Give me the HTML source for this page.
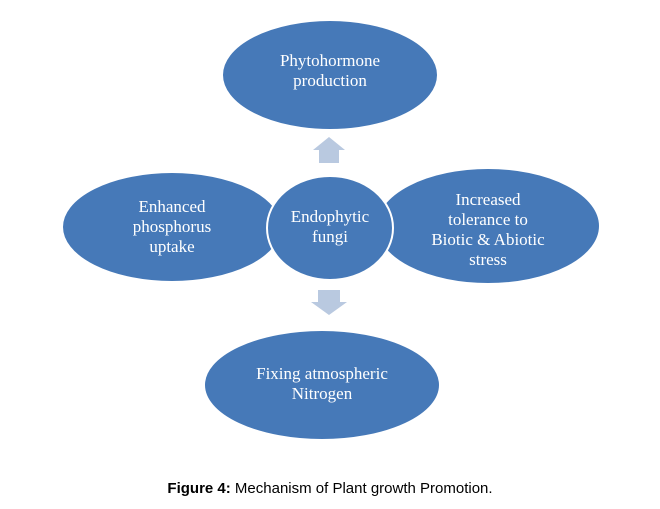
<!DOCTYPE html>
<html><head><style>
body{margin:0;background:#fff;width:660px;height:509px;overflow:hidden}
svg text{font-family:"Liberation Serif",serif;fill:#fff;font-size:17px;text-anchor:middle}
.cap{position:absolute;top:480px;left:0;width:660px;text-align:center;font-family:"Liberation Sans",sans-serif;font-size:15px;color:#000}
</style></head><body>
<svg width="660" height="509" style="position:absolute;left:0;top:0">
<g fill="#4679b8" stroke="#fff" stroke-width="2">
<ellipse cx="330" cy="75" rx="108" ry="55"/>
<ellipse cx="172" cy="227" rx="110" ry="55"/>
<ellipse cx="488" cy="226" rx="112" ry="58"/>
<ellipse cx="330" cy="228" rx="63" ry="52"/>
<ellipse cx="322" cy="385" rx="118" ry="55"/>
</g>
<polygon points="329,137 345,150 339,150 339,163 319,163 319,150 313,150" fill="#b9c9e0"/>
<polygon points="329,315 347,302 340,302 340,290 318,290 318,302 311,302" fill="#b9c9e0"/>
<text x="330" y="66">Phytohormone</text>
<text x="330" y="86">production</text>
<text x="172" y="212">Enhanced</text>
<text x="172" y="232">phosphorus</text>
<text x="172" y="252">uptake</text>
<text x="330" y="222">Endophytic</text>
<text x="330" y="242">fungi</text>
<text x="488" y="205">Increased</text>
<text x="488" y="225">tolerance to</text>
<text x="488" y="245">Biotic &amp; Abiotic</text>
<text x="488" y="265">stress</text>
<text x="322" y="379">Fixing atmospheric</text>
<text x="322" y="399">Nitrogen</text>
</svg>
<div class="cap"><b>Figure 4:</b> Mechanism of Plant growth Promotion.</div>
</body></html>
